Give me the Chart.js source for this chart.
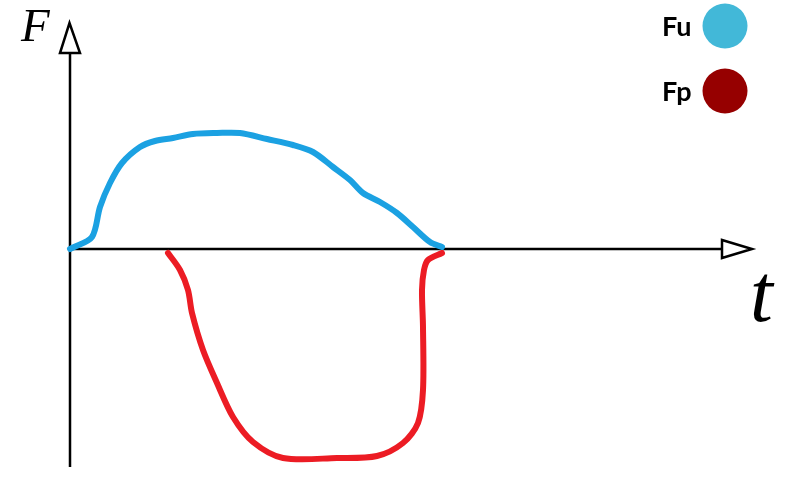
<!DOCTYPE html>
<html>
<head>
<meta charset="utf-8">
<title>F(t)</title>
<script src="https://cdn.jsdelivr.net/npm/chart.js@4.4.0/dist/chart.umd.min.js"></script>
<style>
  html, body { margin: 0; padding: 0; background: #fff; }
  #wrap { width: 800px; height: 477px; position: relative; }
</style>
</head>
<body>
<div id="wrap"><canvas id="myChart"></canvas></div>
<script>
// valores (t, F em unidades arbitrarias)
var seriesNames = ['Fu', 'Fp'];
var legendColors = ['#42b8d8', '#960000'];

var fuT = [0, 0.2, 2.2, 3.0, 4.0, 5.2, 7.0, 8.5, 10.3, 12.3, 14.7, 17.0, 19.7, 22.3, 24.3, 26.3, 28.0, 29.3, 31.0, 32.7, 34.3, 36.0, 37.2];
var fuF = [0, 0.1, 1.2, 4.2, 6.6, 8.6, 10.2, 10.8, 11.1, 11.5, 11.6, 11.6, 11.0, 10.4, 9.7, 8.2, 6.9, 5.6, 4.7, 3.6, 2.2, 0.7, 0.2];

var fpT = [9.8, 11.0, 11.8, 12.2, 13.3, 14.7, 16.3, 18.3, 21.3, 26.7, 30.7, 33.3, 34.8, 35.3, 35.3, 35.2, 35.4, 35.8, 37.2];
var fpF = [-0.4, -2.1, -4.1, -6.4, -10.1, -13.4, -16.8, -19.3, -20.9, -20.9, -20.7, -19.4, -17.4, -14.1, -7.8, -4.1, -2.1, -1.1, -0.4];

// extensao dos eixos
var tAxisEnd = 65.2, tArrowTip = 68.2;
var fAxisStart = -21.8, fAxisEnd = 19.6, fArrowTip = 22.6;

function pontos(ts, fs) {
    var out = [];
    for (var i = 0; i < ts.length; i++) out.push({ x: ts[i], y: fs[i] });
    return out;
}

var eixosPlugin = {
    id: 'eixos',
    beforeDatasetsDraw: function (chart) {
        var ctx = chart.ctx;
        var xs = chart.scales.x, ys = chart.scales.y;
        var x0 = xs.getPixelForValue(0), y0 = ys.getPixelForValue(0);
        ctx.save();
        ctx.strokeStyle = '#000';
        ctx.lineWidth = 2.5;
        // eixo F
        ctx.beginPath();
        ctx.moveTo(x0, ys.getPixelForValue(fAxisStart));
        ctx.lineTo(x0, ys.getPixelForValue(fAxisEnd));
        ctx.stroke();
        var fb = ys.getPixelForValue(fAxisEnd), ft = ys.getPixelForValue(fArrowTip);
        ctx.beginPath();
        ctx.moveTo(x0 - 10, fb);
        ctx.lineTo(x0 + 10, fb);
        ctx.lineTo(x0 - 0.5, ft);
        ctx.closePath();
        ctx.stroke();
        // eixo t
        ctx.beginPath();
        ctx.moveTo(x0, y0);
        ctx.lineTo(xs.getPixelForValue(tAxisEnd), y0);
        ctx.stroke();
        var tb = xs.getPixelForValue(tAxisEnd), tt = xs.getPixelForValue(tArrowTip);
        ctx.beginPath();
        ctx.moveTo(tb, y0 - 9);
        ctx.lineTo(tb, y0 + 9);
        ctx.lineTo(tt, y0);
        ctx.closePath();
        ctx.stroke();
        // rotulos
        ctx.fillStyle = '#000';
        ctx.textBaseline = 'alphabetic';
        ctx.font = 'italic 47px "Liberation Serif"';
        ctx.fillText('F', 21, 41);
        ctx.font = 'italic 82px "Liberation Serif"';
        ctx.fillText('t', 750, 321);
        ctx.restore();
    },
    afterDraw: function (chart) {
        var ctx = chart.ctx;
        ctx.save();
        ctx.textBaseline = 'alphabetic';
        ctx.font = 'bold 27px Lato';
        chart.data.datasets.forEach(function (ds, i) {
            var cy = 26 + i * 65;
            ctx.fillStyle = '#000';
            ctx.fillText(ds.label, 662, cy + 10);
            ctx.fillStyle = legendColors[i];
            ctx.beginPath();
            ctx.arc(725, cy, 22.5, 0, Math.PI * 2);
            ctx.fill();
        });
        ctx.restore();
    }
};

var ctx = document.getElementById('myChart').getContext('2d');
var myChart = new Chart(ctx, {
    type: 'line',
    data: {
        datasets: [{
            label: seriesNames[0],
            data: pontos(fuT, fuF),
            borderColor: '#1ba1e2',
            borderWidth: 6,
            pointRadius: 0,
            tension: 0.3,
            borderCapStyle: 'round',
            borderJoinStyle: 'round',
            fill: false
        }, {
            label: seriesNames[1],
            data: pontos(fpT, fpF),
            borderColor: '#ec1c24',
            borderWidth: 6,
            pointRadius: 0,
            tension: 0.3,
            borderCapStyle: 'round',
            borderJoinStyle: 'round',
            fill: false
        }]
    },
    options: {
        responsive: true,
        maintainAspectRatio: false,
        animation: false,
        layout: { padding: 0 },
        plugins: {
            legend: { display: false },
            tooltip: { enabled: false }
        },
        scales: {
            x: { type: 'linear', min: -7, max: 73, display: false },
            y: { type: 'linear', min: -22.8, max: 24.9, display: false }
        }
    },
    plugins: [eixosPlugin]
});
</script>
</body>
</html>
